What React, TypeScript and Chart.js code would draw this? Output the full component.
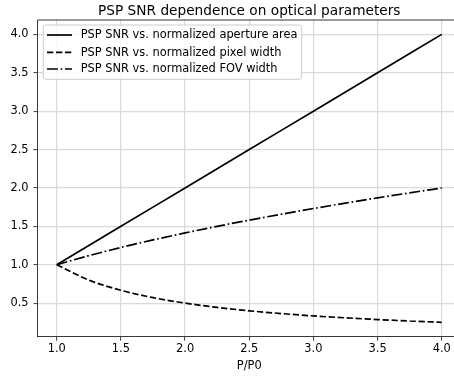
import React, { useEffect, useRef } from "react";
import { Chart, registerables } from "chart.js";

Chart.register(...registerables);

const xValues = [1.0, 1.25, 1.5, 1.75, 2.0, 2.25, 2.5, 2.75, 3.0, 3.25, 3.5, 3.75, 4.0];
const apertureSNR = [1.0, 1.25, 1.5, 1.75, 2.0, 2.25, 2.5, 2.75, 3.0, 3.25, 3.5, 3.75, 4.0];
const pixelSNR = [1.0, 0.8, 0.667, 0.571, 0.5, 0.444, 0.4, 0.364, 0.333, 0.308, 0.286, 0.267, 0.25];
const fovSNR = [1.0, 1.118, 1.225, 1.323, 1.414, 1.5, 1.581, 1.658, 1.732, 1.803, 1.871, 1.936, 2.0];
const xTicks = [1.0, 1.5, 2.0, 2.5, 3.0, 3.5, 4.0];
const yTicks = [0.5, 1.0, 1.5, 2.0, 2.5, 3.0, 3.5, 4.0];
const seriesLabels = [
  "PSP SNR vs. normalized aperture area",
  "PSP SNR vs. normalized pixel width",
  "PSP SNR vs. normalized FOV width",
];
const titleText = "PSP SNR dependence on optical parameters";
const xLabel = "P/P0";

const FONT = "'DejaVu Sans', sans-serif";
const FS = 11.4;
const LW = 1.7;
const DASHED = [6.3, 2.7];
const DASHDOT = [10.9, 2.7, 1.7, 2.7];
const GRID = "#d9d9d9";
const SPINE = "#222";

const overlayPlugin = {
  id: "overlay",
  afterDatasetsDraw(chart: any) {
    const { ctx } = chart;
    const xs = chart.scales.x;
    const ys = chart.scales.y;
    ctx.save();
    ctx.strokeStyle = SPINE;
    ctx.lineWidth = 0.9;
    ctx.beginPath();
    ctx.moveTo(xs.left, ys.top);
    ctx.lineTo(xs.right, ys.top);
    ctx.stroke();

    const bx = 43.3, by = 25, bw = 258.4, bh = 54.3, r = 2.5;
    ctx.fillStyle = "rgba(255,255,255,0.8)";
    ctx.strokeStyle = "#cccccc";
    ctx.lineWidth = 1;
    ctx.beginPath();
    ctx.moveTo(bx + r, by);
    ctx.lineTo(bx + bw - r, by);
    ctx.arcTo(bx + bw, by, bx + bw, by + r, r);
    ctx.lineTo(bx + bw, by + bh - r);
    ctx.arcTo(bx + bw, by + bh, bx + bw - r, by + bh, r);
    ctx.lineTo(bx + r, by + bh);
    ctx.arcTo(bx, by + bh, bx, by + bh - r, r);
    ctx.lineTo(bx, by + r);
    ctx.arcTo(bx, by, bx + r, by, r);
    ctx.closePath();
    ctx.fill();
    ctx.stroke();

    const rows = [35, 52.3, 69];
    const dashes = [[], DASHED, DASHDOT];
    ctx.font = `${FS}px ${FONT}`;
    ctx.textBaseline = "middle";
    rows.forEach((y, i) => {
      ctx.strokeStyle = "#000";
      ctx.lineWidth = LW;
      ctx.setLineDash(dashes[i]);
      ctx.beginPath();
      ctx.moveTo(47, y);
      ctx.lineTo(72, y);
      ctx.stroke();
      ctx.setLineDash([]);
      ctx.fillStyle = "#000";
      ctx.fillText(seriesLabels[i], 80.7, y + 0.5);
    });

    ctx.font = `13.7px ${FONT}`;
    ctx.textAlign = "center";
    ctx.textBaseline = "alphabetic";
    ctx.fillStyle = "#000";
    ctx.fillText(titleText, (xs.left + xs.right) / 2, 14.5);
    ctx.restore();
  },
};

export default function App() {
  const ref = useRef<HTMLCanvasElement>(null);
  useEffect(() => {
    if (!ref.current) return;
    const chart = new Chart(ref.current, {
      type: "line",
      data: {
        datasets: [
          {
            label: seriesLabels[0],
            data: xValues.map((x, i) => ({ x, y: apertureSNR[i] })),
            borderColor: "#000",
            borderWidth: LW,
            pointRadius: 0,
          },
          {
            label: seriesLabels[1],
            data: xValues.map((x, i) => ({ x, y: pixelSNR[i] })),
            borderColor: "#000",
            borderWidth: LW,
            borderDash: DASHED,
            pointRadius: 0,
            cubicInterpolationMode: "monotone",
          },
          {
            label: seriesLabels[2],
            data: xValues.map((x, i) => ({ x, y: fovSNR[i] })),
            borderColor: "#000",
            borderWidth: LW,
            borderDash: DASHDOT,
            pointRadius: 0,
            cubicInterpolationMode: "monotone",
          },
        ],
      },
      options: {
        animation: false,
        responsive: false,
        devicePixelRatio: 1,
        layout: { padding: { left: 0, top: 20, right: 19, bottom: 0 } },
        plugins: { legend: { display: false }, title: { display: false }, tooltip: { enabled: false } },
        scales: {
          x: {
            type: "linear",
            min: 0.85,
            max: 4.15,
            afterFit: (s: any) => { s.height = 40.3; },
            afterBuildTicks: (s: any) => { s.ticks = xTicks.map((v) => ({ value: v })); },
            ticks: {
              callback: (v: any) => Number(v).toFixed(1),
              color: "#000",
              font: { family: FONT, size: FS },
              padding: 2,
              maxRotation: 0,
              autoSkip: false,
            },
            grid: { color: GRID, lineWidth: 1.2, tickColor: SPINE, tickLength: 4, tickWidth: 0.9 },
            border: { color: SPINE, width: 0.9 },
            title: {
              display: true,
              text: xLabel,
              color: "#000",
              font: { family: FONT, size: FS },
              padding: { top: 0, bottom: 4 },
            },
          },
          y: {
            type: "linear",
            min: 0.0625,
            max: 4.1875,
            afterFit: (s: any) => { s.width = 37.5; },
            afterBuildTicks: (s: any) => { s.ticks = yTicks.map((v) => ({ value: v })); },
            ticks: {
              callback: (v: any) => Number(v).toFixed(1),
              color: "#000",
              font: { family: FONT, size: FS },
              padding: 5,
              autoSkip: false,
            },
            grid: { color: GRID, lineWidth: 1.2, tickColor: SPINE, tickLength: 4, tickWidth: 0.9 },
            border: { color: SPINE, width: 0.9 },
          },
        },
      },
      plugins: [overlayPlugin],
    });
    return () => chart.destroy();
  }, []);
  return (
    <div style={{ position: "fixed", left: 0, top: 0, width: 454, height: 377, overflow: "hidden", background: "#fff" }}>
      <canvas ref={ref} width={480} height={377} style={{ display: "block", width: 480, height: 377 }} />
    </div>
  );
}
